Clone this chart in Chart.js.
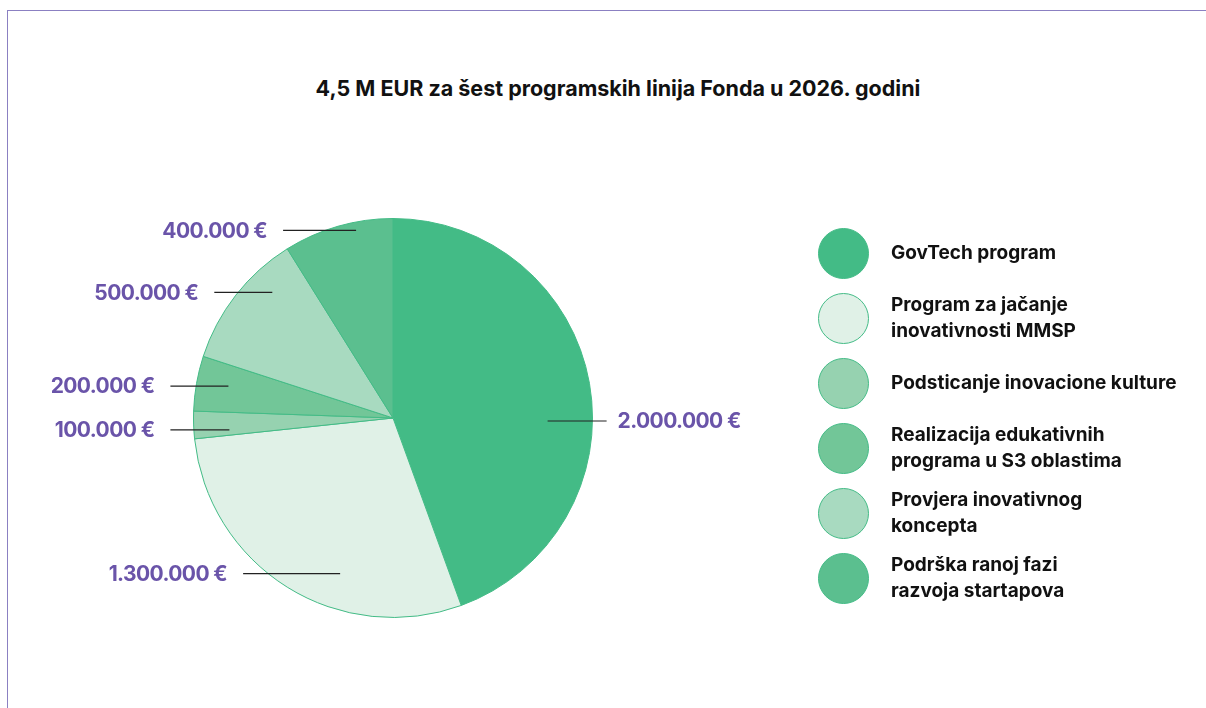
<!DOCTYPE html>
<html>
<head>
<meta charset="utf-8">
<script src="https://cdn.jsdelivr.net/npm/chart.js@4.4.1/dist/chart.umd.min.js"></script>
<style>
  body { margin: 0; background: #fff; }
  #wrap { position: relative; width: 1206px; height: 708px; overflow: hidden; font-family: Inter, Roboto, sans-serif; }
  #frame { position: absolute; left: 7px; top: 10px; right: -2px; bottom: -2px; border-top: 1.5px solid #8b80c2; border-left: 1.5px solid #8b80c2; }
  #title { position: absolute; left: 0; width: 1236px; top: 75px; text-align: center; font-size: 21.5px; font-weight: 700; color: #111; }
  #legend { position: absolute; left: 818px; top: 227px; display: flex; flex-direction: column; gap: 13px; }
  .row { display: flex; align-items: center; min-height: 52px; }
  .dot { width: 51px; height: 51px; border-radius: 50%; flex: none; margin-right: 22px; box-sizing: border-box; }
  .txt { font-size: 19px; font-weight: 700; line-height: 26px; color: #111; }
  canvas { position: absolute; left: 0; top: 0; }
</style>
</head>
<body>
<div id="wrap">
  <div id="frame"></div>
  <div id="title">4,5 M EUR za šest programskih linija Fonda u 2026. godini</div>
  <canvas id="pie" width="1206" height="708"></canvas>
  <div id="legend"></div>
</div>
<script>
// kategorije (legenda) i vrijednosti
const categories = [
  ['GovTech program'],
  ['Program za jačanje', 'inovativnosti MMSP'],
  ['Podsticanje inovacione kulture'],
  ['Realizacija edukativnih', 'programa u S3 oblastima'],
  ['Provjera inovativnog', 'koncepta'],
  ['Podrška ranoj fazi', 'razvoja startapova']
];
const values = [2000000, 1300000, 100000, 200000, 500000, 400000];
const colors = ['#43bb86', '#e0f1e7', '#96d2b0', '#72c698', '#a8dac0', '#5bbf8f'];

function euro(v) {
  return String(v).replace(/\B(?=(\d{3})+(?!\d))/g, '.') + ' €';
}

// linije do oznaka (sidro u odnosu na centar, u dijelovima radijusa)
const leaderPlugin = {
  id: 'leaders',
  afterDatasetsDraw(chart, args, opts) {
    const ctx = chart.ctx;
    const meta = chart.getDatasetMeta(0);
    meta.data.forEach((arc, i) => {
      const l = opts.items[i];
      const ax = arc.x + l.ax * arc.outerRadius;
      const ay = arc.y + l.ay * arc.outerRadius;
      const right = l.ax > 0;
      const ex = right ? ax + l.len : ax - l.len;
      ctx.save();
      ctx.strokeStyle = '#222';
      ctx.lineWidth = 1.2;
      ctx.beginPath();
      ctx.moveTo(ax, ay);
      ctx.lineTo(ex, ay);
      ctx.stroke();
      ctx.fillStyle = '#6a54a9';
      ctx.font = '700 21px Inter, Roboto, sans-serif';
      ctx.textBaseline = 'middle';
      ctx.textAlign = right ? 'left' : 'right';
      if ('letterSpacing' in ctx) ctx.letterSpacing = '-0.6px';
      ctx.fillText(euro(values[i]), right ? ex + 11 : ex - 16, ay + 1);
      ctx.restore();
    });
  }
};

const chart = new Chart(document.getElementById('pie'), {
  type: 'pie',
  data: {
    labels: categories,
    datasets: [{
      data: values,
      backgroundColor: colors,
      borderColor: '#43bb86',
      borderWidth: 1
    }]
  },
  options: {
    responsive: false,
    animation: false,
    layout: { padding: { left: 193, right: 613, top: 218, bottom: 90 } },
    plugins: {
      legend: { display: false },
      tooltip: { enabled: false },
      leaders: {
        items: [
          { ax: 0.775, ay: 0.015, len: 59 },
          { ax: -0.265, ay: 0.78, len: 97 },
          { ax: -0.82, ay: 0.06, len: 59 },
          { ax: -0.825, ay: -0.16, len: 58 },
          { ax: -0.605, ay: -0.63, len: 58 },
          { ax: -0.185, ay: -0.94, len: 73 }
        ]
      }
    }
  },
  plugins: [leaderPlugin]
});

// legenda
const legend = document.getElementById('legend');
chart.data.labels.forEach((lab, i) => {
  const row = document.createElement('div');
  row.className = 'row';
  const dot = document.createElement('div');
  dot.className = 'dot';
  dot.style.background = colors[i];
  dot.style.border = '1px solid #43bb86';
  const txt = document.createElement('div');
  txt.className = 'txt';
  txt.innerHTML = lab.join('<br>');
  row.appendChild(dot);
  row.appendChild(txt);
  legend.appendChild(row);
});
</script>
</body>
</html>
